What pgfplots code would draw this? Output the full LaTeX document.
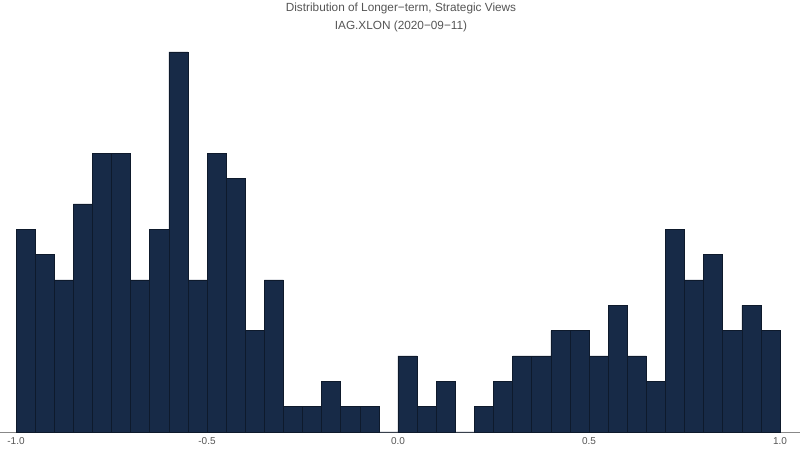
\documentclass[border=0pt]{standalone}
\usepackage{fontspec}
\setmainfont{Liberation Sans}
\usepackage{pgfplots}
\pgfplotsset{compat=1.18}
\definecolor{barfill}{HTML}{172A47}
\definecolor{baredge}{HTML}{0E1A2C}
\definecolor{txtgray}{HTML}{555555}
\definecolor{axgray}{HTML}{888888}
\begin{document}
\begin{tikzpicture}[x=1pt,y=1pt]
\path[use as bounding box] (0,-17) rectangle (800,432);
\begin{axis}[
  at={(0,0)}, anchor=south west,
  scale only axis, width=800pt, height=380pt,
  xmin=-1.0419, xmax=1.0524, ymin=0, ymax=15,
  axis x line=bottom, axis y line=none,
  x axis line style={draw=axgray, line width=0.8pt, -},
  xtick={-1,-0.5,0,0.5,1},
  minor xtick={-0.9,-0.8,-0.7,-0.6,-0.4,-0.3,-0.2,-0.1,0.1,0.2,0.3,0.4,0.6,0.7,0.8,0.9},
  major tick length=4pt, minor tick length=3pt,
  tick align=inside,
  every tick/.style={draw=axgray, line width=0.6pt},
  xticklabel style={/pgf/number format/.cd, fixed, fixed zerofill, precision=1, assume math mode=true},
  ticklabel style={font=\fontsize{10}{11}\selectfont, text=txtgray, inner sep=0pt, yshift=-5pt},
  clip=false,
]
\addplot[ybar interval, fill=barfill, draw=baredge, line width=0.5pt] coordinates {
(-1.00,8) (-0.95,7) (-0.90,6) (-0.85,9) (-0.80,11) (-0.75,11) (-0.70,6) (-0.65,8)
(-0.60,15) (-0.55,6) (-0.50,11) (-0.45,10) (-0.40,4) (-0.35,6) (-0.30,1) (-0.25,1)
(-0.20,2) (-0.15,1) (-0.10,1) (-0.05,0) (0.00,3) (0.05,1) (0.10,2) (0.15,0)
(0.20,1) (0.25,2) (0.30,3) (0.35,3) (0.40,4) (0.45,4) (0.50,3) (0.55,5)
(0.60,3) (0.65,2) (0.70,8) (0.75,6) (0.80,7) (0.85,4) (0.90,5) (0.95,4) (1.00,4)
};
\end{axis}
\node[anchor=base, text=txtgray, font=\fontsize{11.8}{13}\selectfont, inner sep=0pt] at (401,420) {Distribution of Longer−term, Strategic Views};
\node[anchor=base, text=txtgray, font=\fontsize{11.8}{13}\selectfont, inner sep=0pt] at (401,402.5) {IAG.XLON (2020−09−11)};
\end{tikzpicture}
\end{document}
